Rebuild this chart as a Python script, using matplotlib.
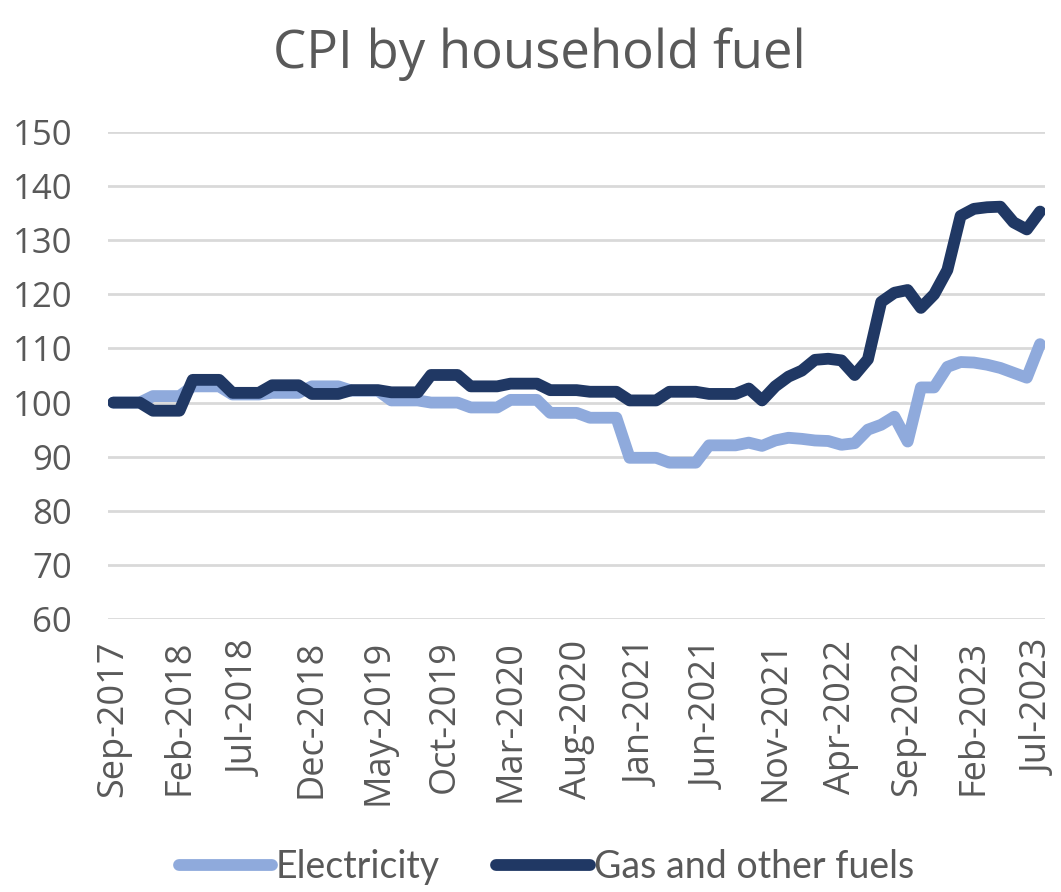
import matplotlib
matplotlib.use("Agg")
import matplotlib.pyplot as plt
import numpy as np

# --- Data: monthly CPI index, Sep-2017 to Jul-2023 ---
months = ['Sep', 'Oct', 'Nov', 'Dec', 'Jan', 'Feb', 'Mar', 'Apr', 'May', 'Jun', 'Jul', 'Aug']
years = [2017, 2017, 2017, 2017] + [y for y in range(2018, 2023) for _ in range(12)] + [2023] * 7
month_names = (months * 7)[:71]
dates = [f"{m}-{y}" for m, y in zip(month_names, years)]

electricity = [
    100.0, 100.0, 100.0, 101.2, 101.2, 101.2, 103.0, 103.0, 103.0, 101.5, 101.5, 101.5,
    101.8, 101.8, 101.8, 103.0, 103.0, 103.0, 102.2, 102.2, 102.2, 100.4, 100.4, 100.4,
    100.0, 100.0, 100.0, 99.1, 99.1, 99.1, 100.5, 100.5, 100.5, 98.1, 98.1, 98.1,
    97.2, 97.2, 97.2, 89.8, 89.8, 89.8, 88.9, 88.9, 88.9, 92.1, 92.1, 92.1,
    92.6, 92.0, 93.0, 93.5, 93.3, 93.0, 92.9, 92.2, 92.5, 95.0, 95.9, 97.4,
    92.8, 102.8, 102.8, 106.6, 107.5, 107.4, 107.0, 106.4, 105.5, 104.6, 110.8,
]
gas = [
    100.0, 100.0, 100.0, 98.5, 98.5, 98.5, 104.2, 104.2, 104.2, 101.8, 101.8, 101.8,
    103.2, 103.2, 103.2, 101.6, 101.6, 101.6, 102.3, 102.3, 102.3, 101.9, 101.9, 101.9,
    105.1, 105.1, 105.1, 103.0, 103.0, 103.0, 103.5, 103.5, 103.5, 102.3, 102.3, 102.3,
    102.0, 102.0, 102.0, 100.4, 100.4, 100.4, 102.0, 102.0, 102.0, 101.6, 101.6, 101.6,
    102.6, 100.4, 103.0, 104.8, 105.9, 107.9, 108.1, 107.8, 105.1, 108.0, 118.6, 120.3,
    120.8, 117.5, 120.0, 124.5, 134.5, 135.8, 136.1, 136.2, 133.3, 132.0, 135.3,
]

x = np.arange(len(dates))
text_grey = '#595959'

fig = plt.figure(figsize=(10.61, 8.92), dpi=100)
ax = fig.add_axes([0.102, 0.306, 0.883, 0.546])

ax.plot(x, electricity, color='#8FAADC', lw=8.5, solid_joinstyle='round',
        solid_capstyle='round', label='Electricity', zorder=3)
ax.plot(x, gas, color='#203864', lw=8.5, solid_joinstyle='round',
        solid_capstyle='round', label='Gas and other fuels', zorder=4)

ax.set_ylim(60, 150)
ax.set_yticks(range(60, 151, 10))
ax.set_xlim(-0.38, len(dates) - 1 + 0.38)
ax.set_xticks(x[::5])
ax.set_xticklabels(dates[::5], rotation=90, fontfamily='Open Sans', fontsize=26,
                   color=text_grey, va='top')
for lab in ax.get_yticklabels():
    lab.set_fontfamily('Open Sans')
    lab.set_fontsize(25)
    lab.set_color(text_grey)

ax.grid(axis='y', color='#D9D9D9', lw=2, zorder=0)
ax.set_axisbelow(True)
ax.tick_params(axis='y', length=0, pad=26)
ax.tick_params(axis='x', length=0, pad=15)
for s in ax.spines.values():
    s.set_visible(False)

fig.text(0.508, 0.924, 'CPI by household fuel', ha='center', va='baseline',
         fontsize=38, color=text_grey, fontfamily='Open Sans')

leg = fig.legend(loc='lower center', bbox_to_anchor=(0.515, -0.030), ncol=2,
                 frameon=False, handlelength=2.5, columnspacing=1.5, handletextpad=0.1,
                 prop={'family': 'Lato', 'size': 27})
for t in leg.get_texts():
    t.set_color(text_grey)

fig.savefig('out.png', dpi=100)
